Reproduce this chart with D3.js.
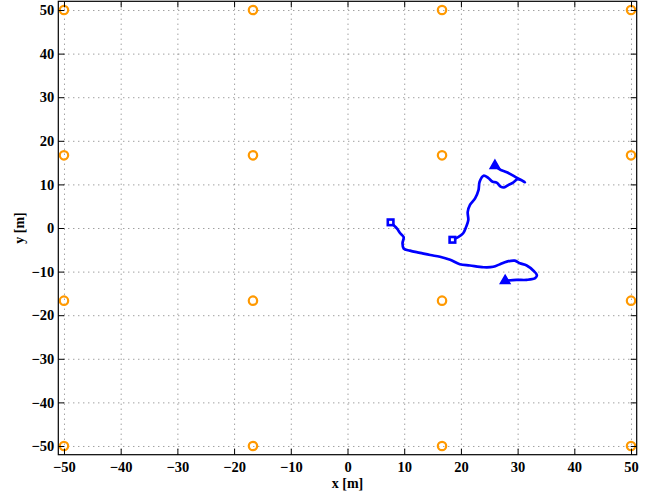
<!DOCTYPE html>
<html>
<head>
<meta charset="utf-8">
<script src="https://cdn.jsdelivr.net/npm/d3@7"></script>
<style>
  body { margin: 0; background: #fff; }
  .tick text { font-family: "Liberation Serif", "Times New Roman", serif; font-weight: bold; font-size: 14.5px; fill: #000; }
</style>
</head>
<body>
<script>
// anchors (orange circles) on a 4x4 grid
const anchorPos = [-50, -16.67, 16.67, 50];

// first trajectory: square start, triangle end
const pathAx = [18.5, 19.5, 20.4, 20.9, 21.3, 21.2, 21.6, 22.5, 23.1, 23.3, 24.0, 24.8, 25.6, 26.3, 27.0, 27.6, 28.4, 29.2, 30.0, 31.3, 29.9, 28.1, 26.9, 26.0];
const pathAy = [-2.7, -2.1, -1.2, 0.2, 1.8, 3.7, 5.3, 6.8, 8.7, 10.6, 12.0, 11.5, 10.6, 10.4, 9.5, 9.3, 9.9, 10.4, 11.2, 10.5, 11.5, 12.8, 13.4, 14.3];

// second trajectory
const pathBx = [7.6, 8.7, 9.3, 9.9, 9.7, 9.9, 11.0, 12.8, 14.6, 16.3, 18.1, 19.8, 21.6, 24.0, 25.7, 26.9, 28.1, 29.5, 30.4, 31.6, 32.8, 33.4, 33.1, 31.6, 29.8, 27.8];
const pathBy = [1.3, -0.1, -1.2, -2.1, -3.5, -4.7, -5.2, -5.7, -6.2, -6.6, -7.3, -8.3, -8.6, -9.0, -8.9, -8.3, -7.7, -7.5, -8.1, -8.6, -9.8, -10.8, -11.5, -11.9, -11.9, -12.1];

const tickValues = [-50, -40, -30, -20, -10, 0, 10, 20, 30, 40, 50];

const width = 662, height = 497;
const svg = d3.select("body").append("svg")
    .attr("width", width)
    .attr("height", height);

const x = d3.scaleLinear().domain([-51, 51]).range([58.3, 636.7]);
const y = d3.scaleLinear().domain([-52, 52]).range([454.7, 1.3]);

const plotLeft = x.range()[0], plotRight = x.range()[1];
const plotTop = y.range()[1], plotBottom = y.range()[0];
const fmt = d => d < 0 ? "\u2212" + Math.abs(d) : String(d);

// dotted grid
svg.append("g")
    .attr("transform", `translate(0,${plotBottom})`)
    .call(d3.axisBottom(x).tickValues(tickValues).tickSize(-(plotBottom - plotTop)).tickFormat(""))
    .call(g => g.select(".domain").remove())
    .selectAll("line").attr("stroke", "#777").attr("stroke-dasharray", "1,4");
svg.append("g")
    .attr("transform", `translate(${plotLeft},0)`)
    .call(d3.axisLeft(y).tickValues(tickValues).tickSize(-(plotRight - plotLeft)).tickFormat(""))
    .call(g => g.select(".domain").remove())
    .selectAll("line").attr("stroke", "#777").attr("stroke-dasharray", "1,4");

// anchors
const anchors = [];
anchorPos.forEach(ax => anchorPos.forEach(ay => anchors.push([ax, ay])));
svg.selectAll("circle.anchor")
    .data(anchors)
    .enter()
    .append("circle")
    .attr("class", "anchor")
    .attr("cx", d => x(d[0]))
    .attr("cy", d => y(d[1]))
    .attr("r", 4.2)
    .attr("fill", "none")
    .attr("stroke", "#ff9900")
    .attr("stroke-width", 2.2);

// trajectories
const paths = [d3.zip(pathAx, pathAy), d3.zip(pathBx, pathBy)];
const line = d3.line().x(d => x(d[0])).y(d => y(d[1])).curve(d3.curveCatmullRom);
svg.selectAll("path.traj")
    .data(paths)
    .enter()
    .append("path")
    .attr("class", "traj")
    .attr("d", line)
    .attr("fill", "none")
    .attr("stroke", "#0000ff")
    .attr("stroke-width", 2.7)
    .attr("stroke-linejoin", "round")
    .attr("stroke-linecap", "round");

// start markers (squares)
svg.selectAll("rect.start")
    .data(paths.map(p => p[0]))
    .enter()
    .append("rect")
    .attr("class", "start")
    .attr("x", d => x(d[0]) - 2.8)
    .attr("y", d => y(d[1]) - 2.8)
    .attr("width", 5.6)
    .attr("height", 5.6)
    .attr("fill", "#fff")
    .attr("stroke", "#0000ff")
    .attr("stroke-width", 2.6);

// end markers (triangles)
svg.selectAll("path.end")
    .data(paths.map(p => p[p.length - 1]))
    .enter()
    .append("path")
    .attr("class", "end")
    .attr("d", d3.symbol(d3.symbolTriangle, 36))
    .attr("transform", d => `translate(${x(d[0])},${y(d[1])})`)
    .attr("fill", "#0000ff")
    .attr("stroke", "#0000ff")
    .attr("stroke-width", 1.8);

// axes with inward ticks
svg.append("g")
    .attr("transform", `translate(0,${plotBottom})`)
    .call(d3.axisBottom(x).tickValues(tickValues).tickSizeInner(-6).tickSizeOuter(0).tickPadding(7).tickFormat(fmt))
    .call(g => g.select(".domain").remove());
svg.append("g")
    .attr("transform", `translate(${plotLeft},0)`)
    .call(d3.axisLeft(y).tickValues(tickValues).tickSizeInner(-6).tickSizeOuter(0).tickPadding(4).tickFormat(fmt))
    .call(g => g.select(".domain").remove());
svg.append("g")
    .attr("transform", `translate(0,${plotTop})`)
    .call(d3.axisTop(x).tickValues(tickValues).tickSizeInner(-6).tickSizeOuter(0).tickFormat(""))
    .call(g => g.select(".domain").remove());
svg.append("g")
    .attr("transform", `translate(${plotRight},0)`)
    .call(d3.axisRight(y).tickValues(tickValues).tickSizeInner(-6).tickSizeOuter(0).tickFormat(""))
    .call(g => g.select(".domain").remove());

// frame
svg.append("rect")
    .attr("x", plotLeft)
    .attr("y", plotTop)
    .attr("width", plotRight - plotLeft)
    .attr("height", plotBottom - plotTop)
    .attr("fill", "none")
    .attr("stroke", "#000")
    .attr("stroke-width", 1.2);

// axis labels
svg.append("text")
    .attr("x", (plotLeft + plotRight) / 2)
    .attr("y", 488)
    .attr("text-anchor", "middle")
    .attr("font-family", "Liberation Serif, serif")
    .attr("font-weight", "bold")
    .attr("font-size", 14)
    .text("x [m]");
svg.append("text")
    .attr("transform", `translate(24,${(plotTop + plotBottom) / 2}) rotate(-90)`)
    .attr("text-anchor", "middle")
    .attr("font-family", "Liberation Serif, serif")
    .attr("font-weight", "bold")
    .attr("font-size", 14)
    .text("y [m]");
</script>
</body>
</html>
